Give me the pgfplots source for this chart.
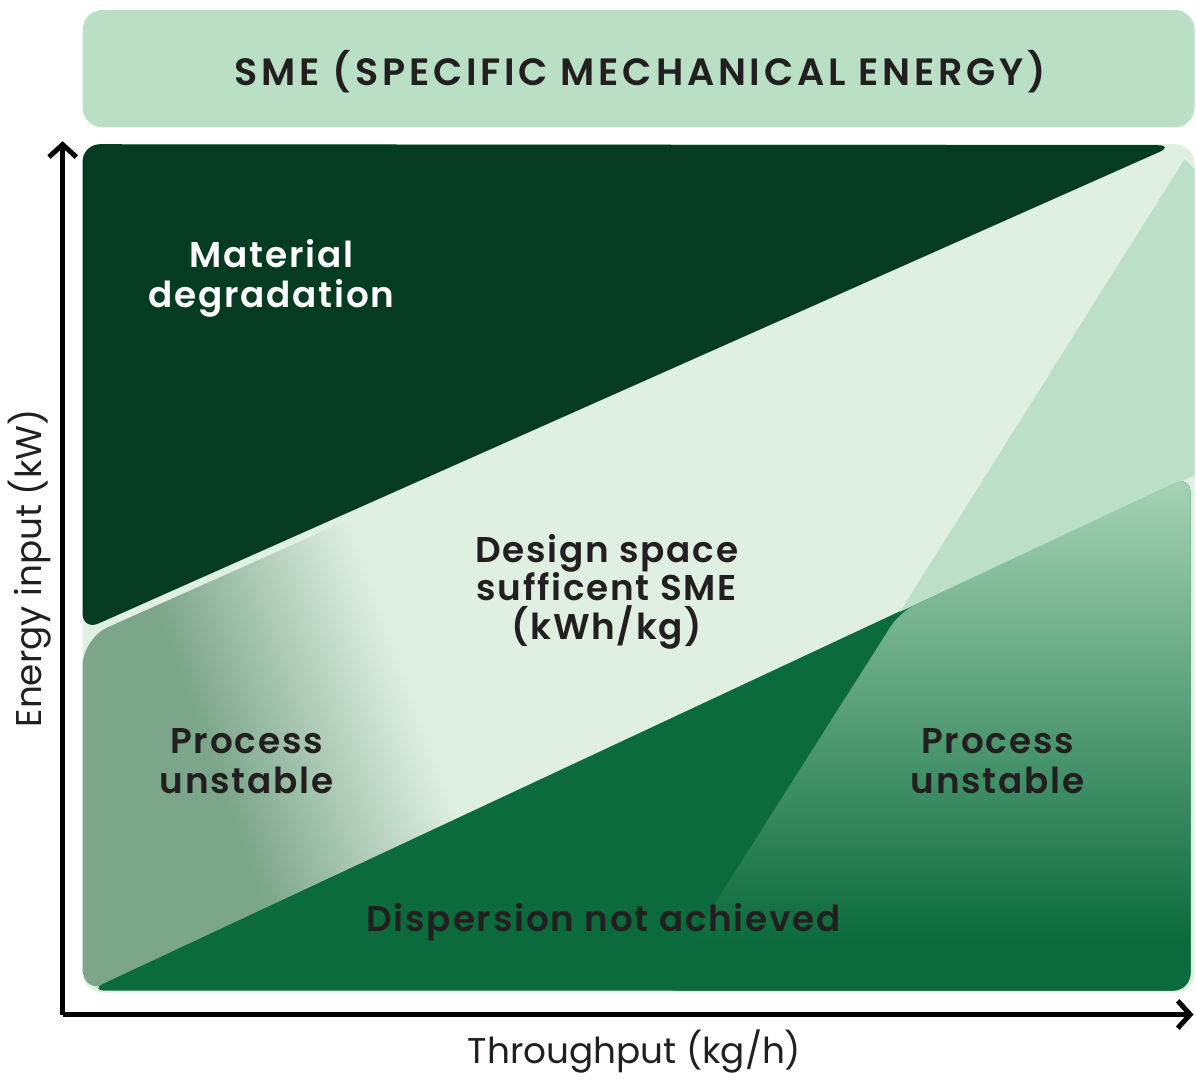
\documentclass[border=0pt]{standalone}
\usepackage{pgfplots}
\pgfplotsset{compat=1.18}
\usepackage{fontspec}
\setmainfont{Poppins}[BoldFont={Poppins SemiBold}]
\usetikzlibrary{arrows.meta}

\definecolor{titlebg}{HTML}{B9DFC5}
\definecolor{bgl}{HTML}{DFEFE2}
\definecolor{darkg}{HTML}{053B21}
\definecolor{medg}{HTML}{0C6B3D}
\definecolor{unst}{HTML}{7BA68A}
\definecolor{rtop}{HTML}{BCDFC7}
\definecolor{rlow}{HTML}{A6D4B6}
\definecolor{txt}{HTML}{231F20}

\pgfdeclarehorizontalshading{procfade}{100bp}{color(0bp)=(unst); color(38bp)=(unst); color(59bp)=(bgl); color(100bp)=(bgl)}
\pgfdeclareverticalshading{rightfade}{100bp}{color(0bp)=(medg); color(30bp)=(medg); color(75bp)=(rlow); color(100bp)=(rlow)}

\begin{document}
\begin{tikzpicture}
\begin{axis}[scale only axis,width=454.8pt,height=351.2pt,
  xmin=58,xmax=1195,ymin=55,ymax=933,axis lines*=left,xtick=\empty,ytick=\empty,clip=false,
  axis line style={line width=2pt,-{Straight Barb[length=5pt,width=11pt]}},
  xlabel={Throughput (kg/h)},ylabel={Energy input (kW)},
  label style={font=\fontsize{14.4}{16}\selectfont,text=txt},
  xlabel style={at={(axis description cs:0.5057,-0.042)},anchor=center},
  ylabel style={at={(axis description cs:-0.029,0.511)},anchor=center,rotate=0}]
% page frame
\path (axis cs:0,0) rectangle (axis cs:1196,1075);
% title box and plot background
\addplot[draw=none,fill=titlebg,rounded corners=8pt] coordinates {(78,947)(1196,947)(1196,1065)(78,1065)} -- cycle;
\addplot[draw=none,fill=bgl,rounded corners=8pt] coordinates {(78,77)(1196,77)(1196,930)(78,930)} -- cycle;
% material degradation
\addplot[draw=none,fill=darkg,rounded corners=7pt] coordinates {(78,930)(1176,929)(78,441)} -- cycle;
% process unstable, left
\addplot[draw=none,shading=procfade,shading angle=20,rounded corners=11pt] coordinates {(78,433)(560,648)(560,296)(78,74)} -- cycle;
% dispersion not achieved
\addplot[draw=none,fill=medg,rounded corners=7pt] coordinates {(84,79)(1192,597)(1192,79)} -- cycle;
% process unstable, right
\addplot[draw=none,fill=rtop] coordinates {(1186,915)(1196,905)(1196,597)(900,460)} -- cycle;
\addplot[draw=none,shading=rightfade,rounded corners=7pt] coordinates {(900,460)(1192,597)(1192,79)(658,79)} -- cycle;
% labels
\node[align=center,text=white,font=\fontsize{14.4}{16}\selectfont\bfseries\addfontfeatures{LetterSpace=5}] at (axis cs:268,795) {Material\\degradation};
\node[align=center,text=txt,font=\fontsize{14.4}{15.6}\selectfont\bfseries\addfontfeatures{LetterSpace=5}] at (axis cs:605,480) {Design space\\sufficent SME\\(kWh/kg)};
\node[align=center,text=txt,font=\fontsize{14.4}{16}\selectfont\bfseries\addfontfeatures{LetterSpace=5}] at (axis cs:243,310) {Process\\unstable};
\node[align=center,text=txt,font=\fontsize{14.4}{16}\selectfont\bfseries\addfontfeatures{LetterSpace=5}] at (axis cs:998,310) {Process\\unstable};
\node[text=txt,font=\fontsize{14.4}{15.6}\selectfont\bfseries\addfontfeatures{LetterSpace=5}] at (axis cs:602,148) {Dispersion not achieved};
\node[text=txt,font=\fontsize{15.3}{17}\selectfont\bfseries\addfontfeatures{LetterSpace=10}] at (axis cs:639,1003) {SME (SPECIFIC MECHANICAL ENERGY)};
\end{axis}
\end{tikzpicture}
\end{document}
